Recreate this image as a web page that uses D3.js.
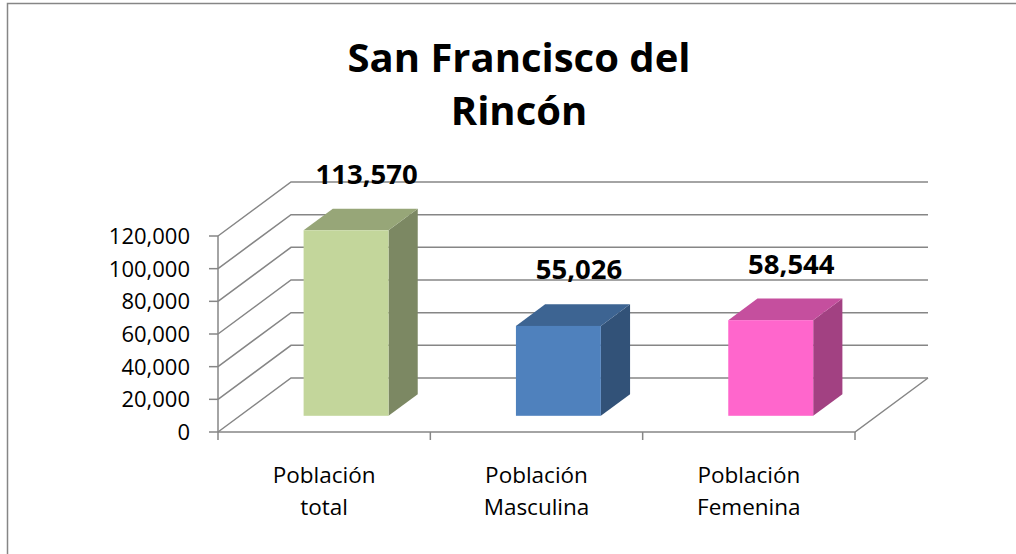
<!DOCTYPE html>
<html>
<head>
<meta charset="utf-8">
<script src="https://cdn.jsdelivr.net/npm/d3@7"></script>
<style>
  html, body { margin: 0; background: #fff; overflow: hidden; }
  svg { display: block; font-family: "Open Sans", sans-serif; }
</style>
</head>
<body>
<div id="chart"></div>
<script>
// chart data
const titleLines = ["San Francisco del", "Rincón"];
const categories = ["Población total", "Población Masculina", "Población Femenina"];
const values = [113570, 55026, 58544];
const yTicks = [0, 20000, 40000, 60000, 80000, 100000, 120000];
const barColors = ["#C3D69B", "#4F81BD", "#FF66CC"];

const width = 1016, height = 554;
const gridColor = "#868686";

// floor front edge + depth offset of the 3D box
const plot = { left: 218, right: 855, bottom: 432, top: 236 };
const depth = { dx: 73, dy: -54 };
const barZ0 = 0.3, barZ1 = 0.7;

const svg = d3.select("#chart")
    .append("svg")
    .attr("width", width)
    .attr("height", height);

// outer frame (right/bottom edges fall outside the picture)
svg.append("path")
    .attr("d", `M7.5,${height}L7.5,3.5L${width},3.5`)
    .attr("fill", "none")
    .attr("stroke", gridColor)
    .attr("stroke-width", 1.5);

const xScale = d3.scaleBand().domain(categories).range([plot.left, plot.right]).padding(0);
const yScale = d3.scaleLinear().domain([0, 120000]).range([plot.bottom, plot.top]);

// walls: left side diagonals + back gridlines
const grid = svg.append("g").attr("fill", "none").attr("stroke", gridColor).attr("stroke-width", 1.5);
grid.selectAll("path.grid")
    .data(yTicks)
    .enter()
    .append("path")
    .attr("class", "grid")
    .attr("d", t => {
        const y = yScale(t);
        return `M${plot.left},${y}L${plot.left + depth.dx},${y + depth.dy}L${plot.right + depth.dx},${y + depth.dy}`;
    });

// floor front edge and right edge
grid.append("path")
    .attr("d", `M${plot.left},${plot.bottom}L${plot.right},${plot.bottom}L${plot.right + depth.dx},${plot.bottom + depth.dy}`);

// value axis line + ticks
grid.append("path")
    .attr("d", `M${plot.left},${yScale(120000)}L${plot.left},${plot.bottom + 8}`);
grid.selectAll("path.ytick")
    .data(yTicks)
    .enter()
    .append("path")
    .attr("class", "ytick")
    .attr("d", t => `M${plot.left - 9},${yScale(t)}L${plot.left},${yScale(t)}`);

// category ticks
const catEdges = categories.map(c => xScale(c) + xScale.bandwidth());
grid.selectAll("path.xtick")
    .data(catEdges)
    .enter()
    .append("path")
    .attr("class", "xtick")
    .attr("d", x => `M${x},${plot.bottom}L${x},${plot.bottom + 8}`);

// tick labels
const fmt = d3.format(",");
svg.append("g")
    .selectAll("text")
    .data(yTicks)
    .enter()
    .append("text")
    .attr("x", 190)
    .attr("y", t => yScale(t))
    .attr("dy", "0.36em")
    .attr("text-anchor", "end")
    .style("font-size", "22px")
    .attr("fill", "#000")
    .text(t => fmt(t));

// category labels (two lines)
const catLabels = svg.append("g")
    .selectAll("text")
    .data(categories)
    .enter()
    .append("text")
    .attr("text-anchor", "middle")
    .style("font-size", "22.5px")
    .attr("fill", "#000");
catLabels.each(function (c) {
    const cx = xScale(c) + xScale.bandwidth() / 2;
    const words = c.split(" ");
    d3.select(this).selectAll("tspan")
        .data(words)
        .enter()
        .append("tspan")
        .attr("x", cx)
        .attr("y", (_, i) => 483 + i * 31.5)
        .text(w => w);
});

// 3D bars
const bw = xScale.bandwidth() * 0.4;
const zdx0 = barZ0 * depth.dx, zdy0 = barZ0 * depth.dy;
const ddx = (barZ1 - barZ0) * depth.dx, ddy = (barZ1 - barZ0) * depth.dy;

const bars = svg.append("g")
    .selectAll("g")
    .data(values.map((v, i) => ({ cat: categories[i], value: v, color: barColors[i] })))
    .enter()
    .append("g");

bars.each(function (d) {
    const g = d3.select(this);
    const x0 = xScale(d.cat) + (xScale.bandwidth() - bw) / 2 + zdx0;
    const x1 = x0 + bw;
    const yb = yScale(0) + zdy0;
    const yt = yScale(d.value) + zdy0;
    const base = d3.rgb(d.color);

    // side face
    g.append("path")
        .attr("d", `M${x1},${yt}L${x1 + ddx},${yt + ddy}L${x1 + ddx},${yb + ddy}L${x1},${yb}Z`)
        .attr("fill", base.darker(1.27));
    // top face
    g.append("path")
        .attr("d", `M${x0},${yt}L${x1},${yt}L${x1 + ddx},${yt + ddy}L${x0 + ddx},${yt + ddy}Z`)
        .attr("fill", base.darker(0.72));
    // front face
    g.append("rect")
        .attr("x", x0)
        .attr("y", yt)
        .attr("width", bw)
        .attr("height", yb - yt)
        .attr("fill", base);

    // value label above the bar top
    g.append("text")
        .attr("x", x0 + bw / 2 + ddx / 2 + 6)
        .attr("y", yt + ddy - 25)
        .attr("text-anchor", "middle")
        .style("font-size", "27.5px")
        .style("font-weight", "bold")
        .attr("fill", "#000")
        .text(fmt(d.value));
});

// title
svg.append("g")
    .selectAll("text")
    .data(titleLines)
    .enter()
    .append("text")
    .attr("x", 519)
    .attr("y", (_, i) => 71.5 + i * 53)
    .attr("text-anchor", "middle")
    .style("font-size", "40px")
    .style("font-weight", "bold")
    .attr("fill", "#000")
    .text(t => t);
</script>
</body>
</html>
